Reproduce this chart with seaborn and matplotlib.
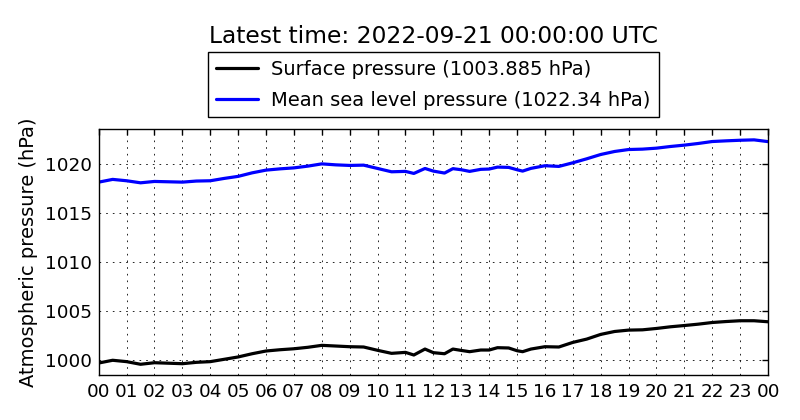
import numpy as np
import pandas as pd
import matplotlib
matplotlib.use("Agg")
import matplotlib.pyplot as plt
import matplotlib.dates as mdates
import seaborn as sns

# ---- data ----
hours = [0, 0.5, 1, 1.5, 2, 3, 3.5, 4, 4.5, 5, 5.5, 6, 6.5, 7, 7.5, 8, 8.5, 9, 9.5,
         10, 10.5, 11, 11.3, 11.7, 12, 12.4, 12.7, 13, 13.3, 13.7, 14, 14.3, 14.7,
         15, 15.2, 15.5, 16, 16.5, 17, 17.5, 18, 18.5, 19, 19.5, 20, 20.5, 21, 21.5,
         22, 22.5, 23, 23.5, 24]
mslp = [1018.19, 1018.47, 1018.33, 1018.12, 1018.26, 1018.19, 1018.30, 1018.33, 1018.57,
        1018.78, 1019.14, 1019.42, 1019.55, 1019.65, 1019.83, 1020.06, 1019.96, 1019.90,
        1019.93, 1019.59, 1019.25, 1019.29, 1019.08, 1019.59, 1019.32, 1019.12, 1019.57,
        1019.46, 1019.29, 1019.50, 1019.53, 1019.73, 1019.70, 1019.46, 1019.32, 1019.60,
        1019.87, 1019.80, 1020.17, 1020.58, 1021.02, 1021.33, 1021.53, 1021.57, 1021.67,
        1021.84, 1021.98, 1022.15, 1022.35, 1022.42, 1022.48, 1022.52, 1022.34]
surface = [999.66, 999.94, 999.80, 999.53, 999.69, 999.59, 999.73, 999.80, 1000.04,
           1000.28, 1000.61, 1000.89, 1001.02, 1001.12, 1001.27, 1001.47, 1001.40, 1001.33,
           1001.30, 1000.96, 1000.65, 1000.75, 1000.48, 1001.09, 1000.72, 1000.61, 1001.09,
           1000.95, 1000.82, 1000.99, 1000.99, 1001.23, 1001.20, 1000.92, 1000.82, 1001.09,
           1001.33, 1001.30, 1001.77, 1002.11, 1002.59, 1002.89, 1003.03, 1003.06, 1003.20,
           1003.37, 1003.50, 1003.64, 1003.81, 1003.91, 1003.99, 1003.99, 1003.885]
start_time = "2022-09-20 00:00:00"
end_time = "2022-09-21 00:00:00"
title_text = "Latest time: 2022-09-21 00:00:00 UTC"
label_surface = "Surface pressure (1003.885 hPa)"
label_mslp = "Mean sea level pressure (1022.34 hPa)"
ylabel_text = "Atmospheric pressure (hPa)"
yticks = [1000, 1005, 1010, 1015, 1020]

# ---- styling ----
sns.set_style("white")
plt.rcParams['font.family'] = ['DejaVu Sans']
plt.rcParams.update({
    "text.color": "black",
    "axes.labelcolor": "black",
    "xtick.color": "black",
    "ytick.color": "black",
})

t0 = pd.Timestamp(start_time)
times = t0 + pd.to_timedelta(hours, unit="h")
df_s = pd.DataFrame({"time": times, "pressure": surface})
df_m = pd.DataFrame({"time": times, "pressure": mslp})

fig = plt.figure(figsize=(8, 4.2), dpi=100)
ax = fig.add_axes([0.1234, 0.1071, 0.8366, 0.585])

sns.lineplot(data=df_s, x="time", y="pressure", color="black", lw=2.3,
             label=label_surface, ax=ax)
sns.lineplot(data=df_m, x="time", y="pressure", color="#0000ff", lw=2.3,
             label=label_mslp, ax=ax)

ax.set_xlim(pd.Timestamp(start_time), pd.Timestamp(end_time))
ax.set_ylim(998.43, 1023.6)
ax.set_yticks(yticks)
ax.xaxis.set_major_locator(mdates.HourLocator(interval=1))
ax.xaxis.set_major_formatter(mdates.DateFormatter("%H"))

ax.grid(True, linestyle=(0, (2, 6)), color="black", lw=0.6)
for sp in ax.spines.values():
    sp.set_color("black")
    sp.set_linewidth(1)
ax.tick_params(axis="both", direction="in", top=True, right=True, length=4,
               width=1, color="black", labelcolor="black", labelsize=13.2)
ax.tick_params(axis="x", pad=5.5)
ax.tick_params(axis="y", pad=4.6)

ax.set_xlabel("")
ax.set_ylabel(ylabel_text, fontsize=14, color="black")
ax.yaxis.set_label_coords(-0.09, 0.5)

ax.set_title(title_text, fontsize=16.8, pad=62, color="black")

leg = ax.legend(loc="lower center", bbox_to_anchor=(0.5, 1.049), borderaxespad=0,
                fontsize=14, frameon=True, fancybox=False, framealpha=1,
                edgecolor="black", handlelength=2.16, handletextpad=0.7,
                labelspacing=0.6, borderpad=0.4)
leg.get_frame().set_linewidth(1)
for t in leg.get_texts():
    t.set_color("black")

fig.savefig("out.png", dpi=100)
